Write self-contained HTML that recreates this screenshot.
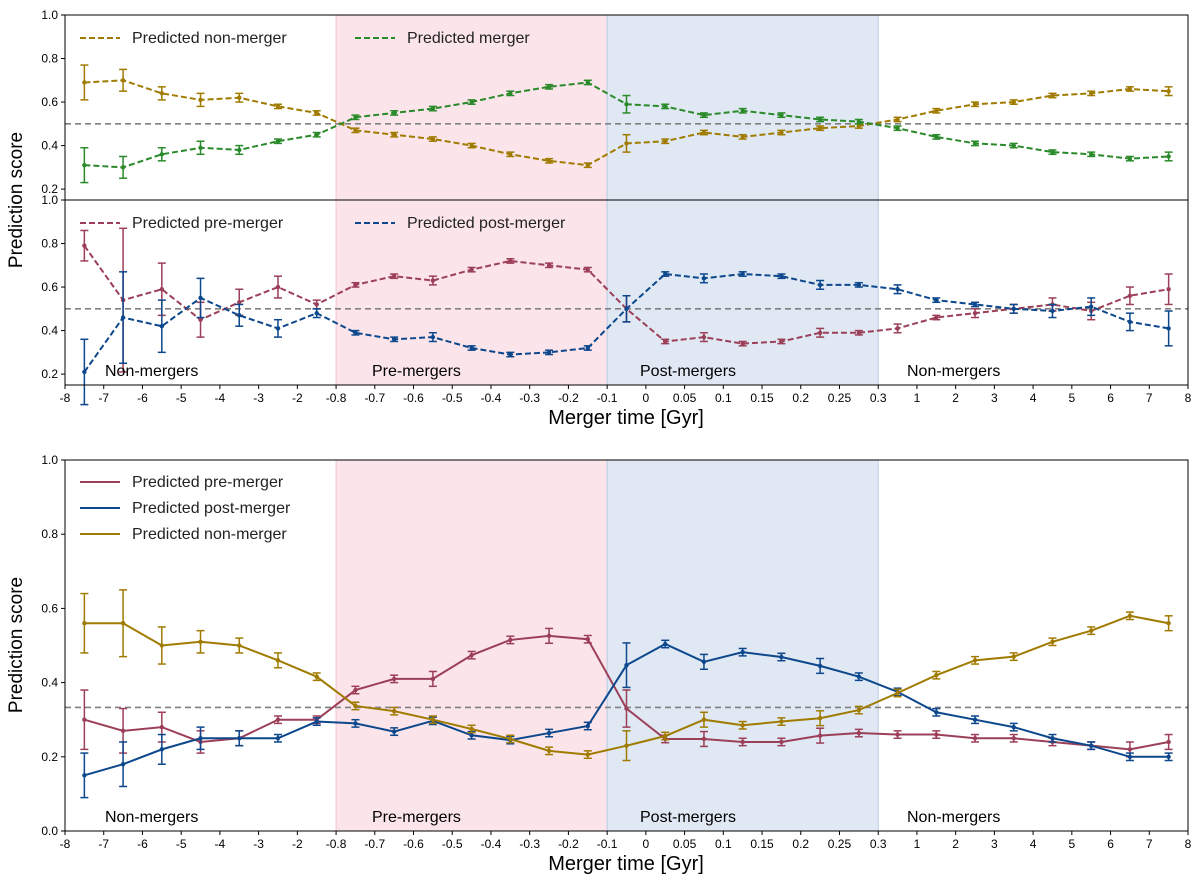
<!DOCTYPE html>
<html><head><meta charset="utf-8"><style>
body{margin:0;background:#fff}
svg{display:block;font-family:"Liberation Sans","DejaVu Sans",sans-serif}
</style></head><body>
<svg id="fig" width="1200" height="881" viewBox="0 0 1200 881" xmlns="http://www.w3.org/2000/svg"></svg>
<script>
const tickLabels=["-8","-7","-6","-5","-4","-3","-2","-0.8","-0.7","-0.6","-0.5","-0.4","-0.3","-0.2","-0.1","0","0.05","0.1","0.15","0.2","0.25","0.3","1","2","3","4","5","6","7","8"];
const p1NonMerger=[0.69,0.70,0.64,0.61,0.62,0.58,0.55,0.47,0.45,0.43,0.40,0.36,0.33,0.31,0.41,0.42,0.46,0.44,0.46,0.48,0.49,0.52,0.56,0.59,0.60,0.63,0.64,0.66,0.65];
const p1NonMergerErr=[0.08,0.05,0.03,0.03,0.02,0.01,0.01,0.01,0.01,0.01,0.01,0.01,0.01,0.01,0.04,0.01,0.01,0.01,0.01,0.01,0.01,0.01,0.01,0.01,0.01,0.01,0.01,0.01,0.02];
const p1Merger=p1NonMerger.map(v=>+(1-v).toFixed(2));
const p2Pre=[0.79,0.54,0.59,0.45,0.53,0.60,0.52,0.61,0.65,0.63,0.68,0.72,0.70,0.68,0.50,0.35,0.37,0.34,0.35,0.39,0.39,0.41,0.46,0.48,0.50,0.52,0.49,0.56,0.59];
const p2PreErr=[0.07,0.33,0.12,0.08,0.06,0.05,0.02,0.01,0.01,0.02,0.01,0.01,0.01,0.01,0.06,0.01,0.02,0.01,0.01,0.02,0.01,0.02,0.01,0.02,0.02,0.03,0.04,0.04,0.07];
const p2Post=[0.21,0.46,0.42,0.55,0.47,0.41,0.48,0.39,0.36,0.37,0.32,0.29,0.30,0.32,0.50,0.66,0.64,0.66,0.65,0.61,0.61,0.59,0.54,0.52,0.50,0.49,0.51,0.44,0.41];
const p2PostErr=[0.15,0.21,0.12,0.09,0.05,0.04,0.02,0.01,0.01,0.02,0.01,0.01,0.01,0.01,0.06,0.01,0.02,0.01,0.01,0.02,0.01,0.02,0.01,0.01,0.02,0.03,0.04,0.04,0.08];
const p3Pre=[0.30,0.27,0.28,0.24,0.25,0.30,0.30,0.38,0.41,0.41,0.474,0.515,0.526,0.517,0.33,0.248,0.248,0.24,0.24,0.257,0.264,0.26,0.26,0.25,0.25,0.24,0.23,0.22,0.24];
const p3PreErr=[0.08,0.06,0.04,0.03,0.02,0.01,0.01,0.01,0.01,0.02,0.01,0.01,0.02,0.01,0.05,0.01,0.02,0.01,0.01,0.02,0.01,0.01,0.01,0.01,0.01,0.01,0.01,0.02,0.02];
const p3Post=[0.15,0.18,0.22,0.25,0.25,0.25,0.295,0.29,0.268,0.297,0.258,0.245,0.264,0.283,0.447,0.504,0.456,0.482,0.469,0.445,0.416,0.375,0.32,0.30,0.28,0.25,0.23,0.20,0.20];
const p3PostErr=[0.06,0.06,0.04,0.03,0.02,0.01,0.01,0.01,0.01,0.01,0.01,0.01,0.01,0.01,0.06,0.01,0.02,0.01,0.01,0.02,0.01,0.01,0.01,0.01,0.01,0.01,0.01,0.01,0.01];
const p3Non=[0.56,0.56,0.50,0.51,0.50,0.46,0.416,0.337,0.323,0.30,0.275,0.248,0.216,0.206,0.23,0.256,0.30,0.285,0.295,0.304,0.326,0.372,0.42,0.46,0.47,0.51,0.54,0.58,0.56];
const p3NonErr=[0.08,0.09,0.05,0.03,0.02,0.02,0.01,0.01,0.01,0.01,0.01,0.01,0.01,0.01,0.04,0.01,0.02,0.01,0.01,0.02,0.01,0.01,0.01,0.01,0.01,0.01,0.01,0.01,0.02];
const regionLabels=["Non-mergers","Pre-mergers","Post-mergers","Non-mergers"];

const NS="http://www.w3.org/2000/svg";
const svg=document.getElementById('fig');
const X0=65,X1=1188;
const xs=i=>X0+(X1-X0)*i/(tickLabels.length-1);
function el(tag,attrs,parent){const e=document.createElementNS(NS,tag);for(const k in attrs)e.setAttribute(k,attrs[k]);(parent||svg).appendChild(e);return e;}
function txt(s,attrs,parent){const e=el('text',attrs,parent);e.textContent=s;return e;}

const C={non:"#a07b00",mer:"#2a8a2a",pre:"#9c3f58",post:"#0d478c"};

function panel(name,top,bot,ymin,ymax,ticks,showRegions,legend,series,baseline){
  const g=el('g',{});
  
  
  const ys=v=>bot-(v-ymin)/(ymax-ymin)*(bot-top);
  const r1=el('rect',{x:xs(7),y:top,width:xs(14)-xs(7),height:bot-top,fill:"#fbe5ea",stroke:"#f3c5d0","stroke-width":1},g);
  
  const r2=el('rect',{x:xs(14),y:top,width:xs(21)-xs(14),height:bot-top,fill:"#dfe8f3",stroke:"#b9cce2","stroke-width":1},g);
  
  el('line',{x1:X0,x2:X1,y1:ys(baseline),y2:ys(baseline),stroke:"#808080","stroke-width":1.6,"stroke-dasharray":"6,4"},g);
  series.forEach(s=>{
    const pts=s.v.map((v,i)=>xs(i+0.5)+","+ys(v)).join(" ");
    const pl=el('polyline',{points:pts,fill:"none",stroke:s.c,"stroke-width":2,"stroke-dasharray":s.dash?"6,3":"none"},g);
    
    s.v.forEach((v,i)=>{
      const x=xs(i+0.5),e=s.e[i];
      el('line',{x1:x,x2:x,y1:ys(v-e),y2:ys(v+e),stroke:s.c,"stroke-width":1.5},g);
      el('line',{x1:x-4,x2:x+4,y1:ys(v-e),y2:ys(v-e),stroke:s.c,"stroke-width":1.5},g);
      el('line',{x1:x-4,x2:x+4,y1:ys(v+e),y2:ys(v+e),stroke:s.c,"stroke-width":1.5},g);
      const c=el('circle',{cx:x,cy:ys(v),r:2.2,fill:s.c},g);
      
    });
  });
  if(showRegions){
    const rx=[105,372,640,907];
    regionLabels.forEach((t,i)=>{const e=txt(t,{x:rx[i],y:bot-9,"font-size":16,fill:"#000"},g);
      });
  }
  legend.forEach(l=>{
    el('line',{x1:l.x,x2:l.x+40,y1:l.y,y2:l.y,stroke:l.c,"stroke-width":2,"stroke-dasharray":l.dash?"6,3":"none"},g);
    const t=txt(l.t,{x:l.x+52,y:l.y+5,"font-size":16,fill:"#222"},g);
    
  });
  el('rect',{x:X0,y:top,width:X1-X0,height:bot-top,fill:"none",stroke:"#000","stroke-width":1},g);
  ticks.forEach(v=>{
    el('line',{x1:X0-4,x2:X0,y1:ys(v),y2:ys(v),stroke:"#000"},g);
    const t=txt(v.toFixed(1),{x:X0-7,y:ys(v)+4,"font-size":12,"text-anchor":"end"},g);
    
  });
  return g;
}
function xaxis(y){
  tickLabels.forEach((l,i)=>{
    el('line',{x1:xs(i),x2:xs(i),y1:y,y2:y+4,stroke:"#000"});
    const t=txt(l,{x:xs(i),y:y+17,"font-size":12,"text-anchor":"middle"});
    
  });
  const t=txt("Merger time [Gyr]",{x:626,y:y+39,"font-size":20,"text-anchor":"middle"});
  
}
panel('panel-merger-vs-nonmerger',15,200,0.15,1.0,[0.2,0.4,0.6,0.8,1.0],false,
 [{x:80,y:38,c:C.non,dash:1,t:"Predicted non-merger"},{x:355,y:38,c:C.mer,dash:1,t:"Predicted merger"}],
 [{name:'non-merger',v:p1NonMerger,e:p1NonMergerErr,c:C.non,dash:1},{name:'merger',v:p1Merger,e:p1NonMergerErr,c:C.mer,dash:1}],0.5);
panel('panel-pre-vs-post',200,385,0.15,1.0,[0.2,0.4,0.6,0.8,1.0],true,
 [{x:80,y:223,c:C.pre,dash:1,t:"Predicted pre-merger"},{x:355,y:223,c:C.post,dash:1,t:"Predicted post-merger"}],
 [{name:'pre-merger',v:p2Pre,e:p2PreErr,c:C.pre,dash:1},{name:'post-merger',v:p2Post,e:p2PostErr,c:C.post,dash:1}],0.5);
xaxis(385);
let t=txt("Prediction score",{x:22,y:200,"font-size":19,"text-anchor":"middle",transform:"rotate(-90 22 200)"});

panel('panel-three-class',460,831,0,1.0,[0,0.2,0.4,0.6,0.8,1.0],true,
 [{x:80,y:482,c:C.pre,t:"Predicted pre-merger"},{x:80,y:508,c:C.post,t:"Predicted post-merger"},{x:80,y:534,c:C.non,t:"Predicted non-merger"}],
 [{name:'pre-merger',v:p3Pre,e:p3PreErr,c:C.pre},{name:'post-merger',v:p3Post,e:p3PostErr,c:C.post},{name:'non-merger',v:p3Non,e:p3NonErr,c:C.non}],0.333);
xaxis(831);
t=txt("Prediction score",{x:22,y:645,"font-size":19,"text-anchor":"middle",transform:"rotate(-90 22 645)"});

</script>
</body></html>
